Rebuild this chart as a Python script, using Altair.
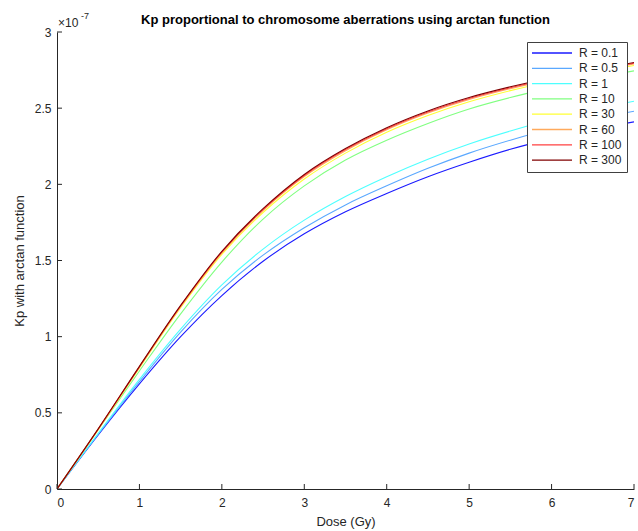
import altair as alt
import pandas as pd

# ---------------- data (Kp values in units of 1e-7) ----------------
dose = [0, 0.5, 1, 1.5, 2, 2.5, 3, 3.5, 4, 4.5, 5, 5.5, 6, 6.5, 7]

series_labels = ["R = 0.1", "R = 0.5", "R = 1", "R = 10", "R = 30", "R = 60", "R = 100", "R = 300"]
series_colors = ["#1a1aff", "#5aa8ff", "#4dffff", "#80ff80", "#ffff33", "#ffaa5c", "#ff4040", "#800000"]

kp_r0_1 = [0, 0.355, 0.69, 1.00, 1.27, 1.495, 1.675, 1.82, 1.94, 2.05, 2.145, 2.23, 2.30, 2.36, 2.41]
kp_r0_5 = [0, 0.36, 0.705, 1.03, 1.31, 1.535, 1.715, 1.865, 1.99, 2.105, 2.205, 2.29, 2.365, 2.427, 2.48]
kp_r1 = [0, 0.365, 0.72, 1.05, 1.34, 1.575, 1.765, 1.92, 2.05, 2.165, 2.265, 2.35, 2.425, 2.49, 2.545]
kp_r10 = [0, 0.39, 0.775, 1.15, 1.49, 1.772, 1.99, 2.16, 2.29, 2.40, 2.495, 2.57, 2.635, 2.695, 2.745]
kp_r30 = [0, 0.39, 0.795, 1.19, 1.54, 1.815, 2.035, 2.205, 2.342, 2.452, 2.542, 2.615, 2.677, 2.73, 2.78]
kp_r60 = [0, 0.392, 0.80, 1.197, 1.55, 1.828, 2.051, 2.221, 2.358, 2.468, 2.557, 2.628, 2.689, 2.74, 2.79]
kp_r100 = [0, 0.394, 0.802, 1.201, 1.555, 1.834, 2.058, 2.228, 2.365, 2.475, 2.564, 2.634, 2.695, 2.745, 2.795]
kp_r300 = [0, 0.395, 0.805, 1.205, 1.56, 1.84, 2.065, 2.235, 2.372, 2.482, 2.57, 2.64, 2.70, 2.75, 2.80]

all_series = [kp_r0_1, kp_r0_5, kp_r1, kp_r10, kp_r30, kp_r60, kp_r100, kp_r300]

x_ticks = [0, 1, 2, 3, 4, 5, 6, 7]
y_ticks = [0, 0.5, 1, 1.5, 2, 2.5, 3]

title_text = "Kp proportional to chromosome aberrations using arctan function"
x_title = "Dose (Gy)"
y_title = "Kp with arctan function"

rows = []
for i, (lab, vals) in enumerate(zip(series_labels, all_series)):
    for d, v in zip(dose, vals):
        rows.append({"series": lab, "order": i, "dose": d, "kp": v})
df = pd.DataFrame(rows)

W, H = 577, 457
FONT = "Liberation Sans"
INK = "#262626"

xs = alt.Scale(domain=[0, 7], nice=False, zero=False)
ys = alt.Scale(domain=[0, 3], nice=False, zero=False)

lines = alt.Chart(df).mark_line(strokeWidth=1.1, interpolate="catmull-rom", clip=True).encode(
    x=alt.X("dose:Q", scale=xs,
            axis=alt.Axis(values=x_ticks, title=x_title, format="~g", grid=False,
                          ticks=False, tickSize=0, labelPadding=8, titlePadding=7)),
    y=alt.Y("kp:Q", scale=ys,
            axis=alt.Axis(values=y_ticks, title=y_title, format="~g", grid=False,
                          ticks=False, tickSize=0, labelPadding=6, titlePadding=8)),
    color=alt.Color("series:N",
                    scale=alt.Scale(domain=series_labels, range=series_colors),
                    legend=alt.Legend(orient="none", legendX=470, legendY=10, title=None,
                                      symbolType="M-4,0H4", symbolSize=100, symbolStrokeWidth=1.3,
                                      symbolOffset=14, labelOffset=21,
                                      labelFontSize=12, labelFont=FONT, labelColor=INK,
                                      padding=5, rowPadding=3.3,
                                      strokeColor="#404040", fillColor="white",
                                      cornerRadius=0, labelLimit=200)),
    order=alt.Order("order:Q"),
    detail="series:N",
)

xt = pd.DataFrame({"v": x_ticks})
yt = pd.DataFrame({"v": y_ticks})
xtick_marks = alt.Chart(xt).mark_rule(color=INK, strokeWidth=1).encode(
    x=alt.X("v:Q", scale=xs), y=alt.value(H), y2=alt.value(H - 5))
ytick_marks = alt.Chart(yt).mark_rule(color=INK, strokeWidth=1).encode(
    y=alt.Y("v:Q", scale=ys), x=alt.value(0), x2=alt.value(5))

title_mark = alt.Chart(pd.DataFrame({"t": [title_text]})).mark_text(
    font=FONT, fontSize=13, fontWeight="bold", color="black", align="center", baseline="alphabetic"
).encode(text="t:N", x=alt.value(W / 2), y=alt.value(-8))

exp_base = alt.Chart(pd.DataFrame({"t": ["×10"]})).mark_text(
    font=FONT, fontSize=12, color=INK, align="left", baseline="alphabetic"
).encode(text="t:N", x=alt.value(1), y=alt.value(-5))
exp_sup = alt.Chart(pd.DataFrame({"t": ["-7"]})).mark_text(
    font=FONT, fontSize=9, color=INK, align="left", baseline="alphabetic"
).encode(text="t:N", x=alt.value(24), y=alt.value(-13))

chart = alt.layer(lines, xtick_marks, ytick_marks, title_mark, exp_base, exp_sup).properties(
    width=W, height=H,
    autosize=alt.AutoSizeParams(type="none"),
    padding={"left": 57, "top": 32, "right": 4, "bottom": 42},
).configure_view(stroke=None).configure_axis(
    domainColor=INK, domainWidth=1, labelColor=INK, labelFont=FONT, labelFontSize=12,
    titleFont=FONT, titleFontSize=13, titleFontWeight="normal", titleColor=INK,
)

chart.save("out.html", embed_options={"renderer": "svg", "actions": False})
